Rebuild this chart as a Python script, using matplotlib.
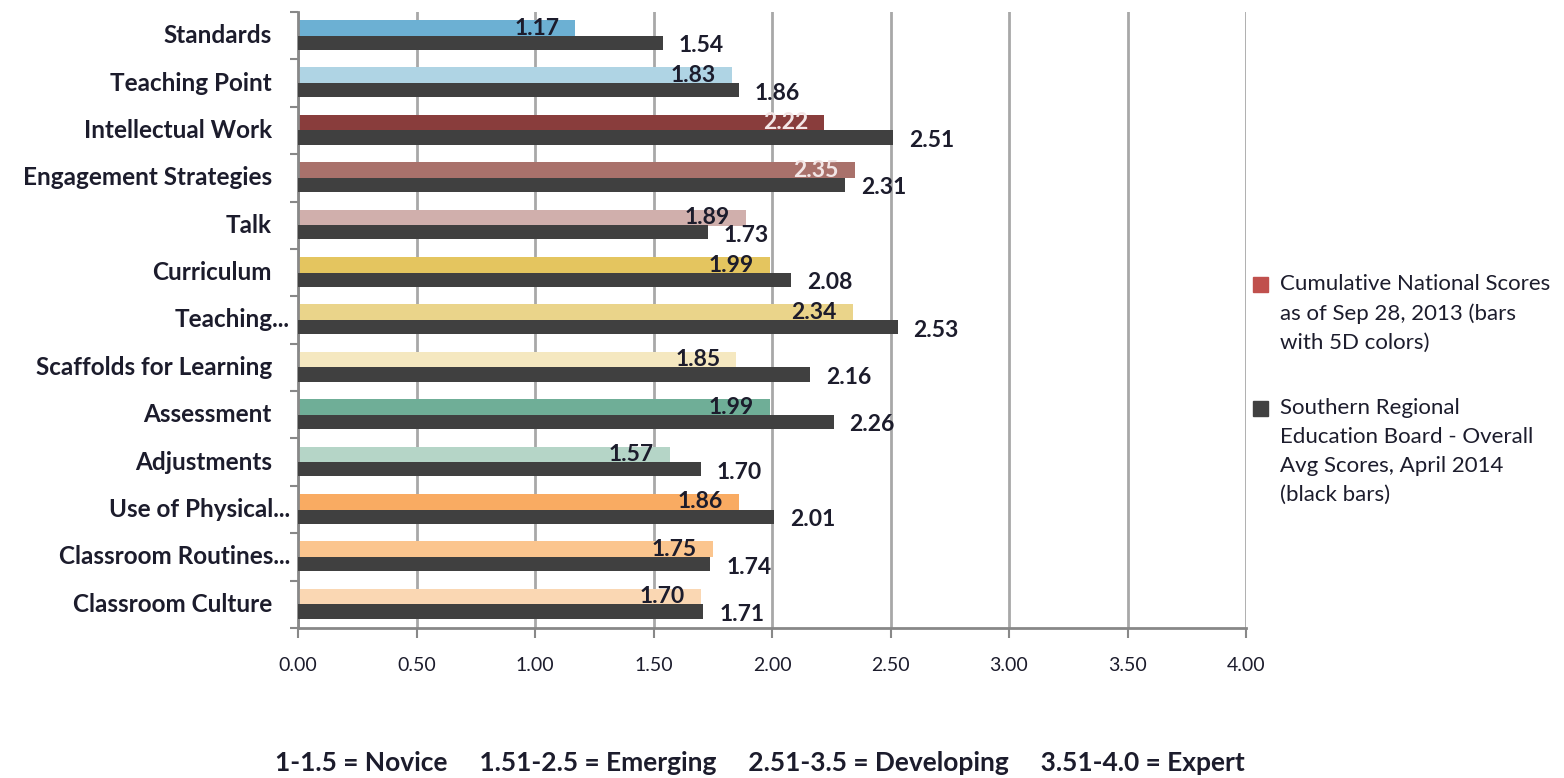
import matplotlib
matplotlib.use("Agg")
import matplotlib.pyplot as plt
import numpy as np
from matplotlib.patches import Rectangle
from matplotlib.transforms import blended_transform_factory

plt.rcParams["font.family"] = ["Lato", "DejaVu Sans"]

categorias = ["Standards", "Teaching Point", "Intellectual Work", "Engagement Strategies",
              "Talk", "Curriculum", "Teaching...", "Scaffolds for Learning", "Assessment",
              "Adjustments", "Use of Physical...", "Classroom Routines...", "Classroom Culture"]
nacional = [1.17, 1.83, 2.22, 2.35, 1.89, 1.99, 2.34, 1.85, 1.99, 1.57, 1.86, 1.75, 1.70]
sreb = [1.54, 1.86, 2.51, 2.31, 1.73, 2.08, 2.53, 2.16, 2.26, 1.70, 2.01, 1.74, 1.71]
cores = ["#6cb0d3", "#afd4e4", "#893d3c", "#a9716b", "#d0afac", "#e4c55f", "#ead48a",
         "#f5e8c0", "#6fae97", "#b5d5c7", "#f9ab62", "#fbc58e", "#fad7b3"]
cor_rotulo = ["#1c1c2c"] * 13
cor_rotulo[2] = "#f3e6e6"
cor_rotulo[3] = "#f3e6e6"

legenda_nacional = "Cumulative National Scores\nas of Sep 28, 2013 (bars\nwith 5D colors)"
legenda_sreb = "Southern Regional\nEducation Board - Overall\nAvg Scores, April 2014\n(black bars)"
rodape = "1-1.5 = Novice     1.51-2.5 = Emerging     2.51-3.5 = Developing     3.51-4.0 = Expert"

texto = "#1c1c2c"
preto = "#404040"

fig = plt.figure(figsize=(15.64, 7.78), dpi=100)
ax = fig.add_axes([298 / 1564, 1 - 628 / 778, 948 / 1564, 616 / 778])

y = np.arange(len(categorias))
ax.barh(y - 0.16, nacional, height=0.34, color=cores, zorder=2)
ax.barh(y + 0.15, sreb, height=0.30, color=preto, zorder=3)

for i in range(len(categorias)):
    ax.annotate(f"{nacional[i]:.2f}", (nacional[i], y[i] - 0.16), xytext=(-16, 0),
                textcoords="offset pixels", ha="right", va="center",
                fontsize=16.5, fontweight="bold", color=cor_rotulo[i], zorder=4)
    ax.annotate(f"{sreb[i]:.2f}", (sreb[i], y[i] + 0.15), xytext=(16, -3),
                textcoords="offset pixels", ha="left", va="center",
                fontsize=16.5, fontweight="bold", color=texto, zorder=4)

# rótulos das categorias (os truncados com "..." ficam mais à direita, como no Excel)
trans = blended_transform_factory(ax.transAxes, ax.transData)
for i, nome in enumerate(categorias):
    desloc = -8 if nome.endswith("...") else -26
    ax.annotate(nome, (0, y[i]), xycoords=trans, xytext=(desloc, 0),
                textcoords="offset pixels", ha="right", va="center",
                fontsize=17.5, fontweight="bold", color=texto, annotation_clip=False)

ax.set_xlim(0, 4)
ax.set_ylim(len(categorias) - 0.5, -0.5)
ax.set_xticks(np.arange(0, 4.01, 0.5))
ax.set_xticklabels([f"{v:.2f}" for v in np.arange(0, 4.01, 0.5)], fontsize=14, color=texto)
ax.set_yticks(np.arange(-0.5, len(categorias), 1))
ax.set_yticklabels([])
ax.tick_params(axis="y", length=6, width=1.5, color="#888888")
ax.tick_params(axis="x", length=7, width=1.5, color="#888888", pad=14)
ax.grid(axis="x", color="#a8a8a8", linewidth=2, zorder=0)
ax.set_axisbelow(True)
for lado in ["top", "right"]:
    ax.spines[lado].set_visible(False)
for lado in ["left", "bottom"]:
    ax.spines[lado].set_color("#888888")
    ax.spines[lado].set_linewidth(2)

# legenda manual
fig.add_artist(Rectangle((1253 / 1564, 1 - 292 / 778), 15 / 1564, 15 / 778,
                         transform=fig.transFigure, color="#c0504d"))
fig.add_artist(Rectangle((1253 / 1564, 1 - 416 / 778), 15 / 1564, 15 / 778,
                         transform=fig.transFigure, color=preto))
fig.text(1280 / 1564, 1 - 274 / 778, legenda_nacional, fontsize=16, color=texto,
         va="top", ha="left", linespacing=1.55)
fig.text(1280 / 1564, 1 - 398 / 778, legenda_sreb, fontsize=16, color=texto,
         va="top", ha="left", linespacing=1.55)

fig.text(760 / 1564, 1 - 763 / 778, rodape, fontsize=19, fontweight="bold", color=texto,
         ha="center", va="center")

fig.savefig("out.png", dpi=100, facecolor="white")
